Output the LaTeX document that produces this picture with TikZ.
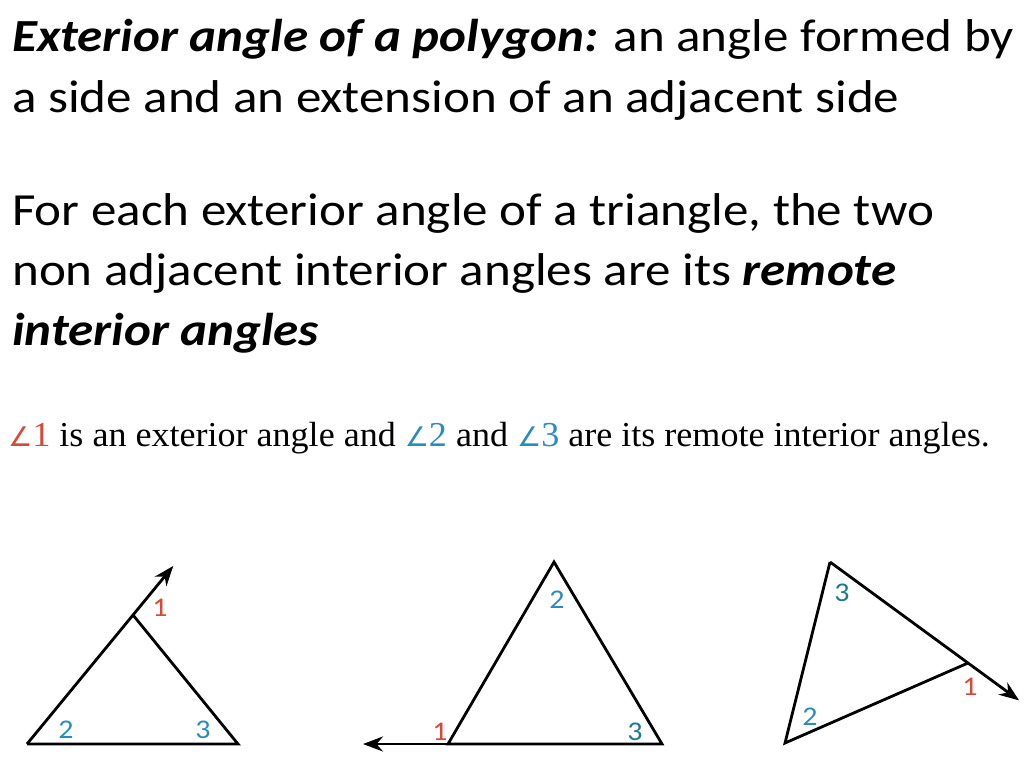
\documentclass[tikz,border=0pt]{standalone}
\usepackage{xcolor}
\usepackage{fontspec}
\setmainfont{Carlito}[FakeStretch=1.11]
\newfontfamily\capfont{Liberation Serif}[FakeStretch=1.03]
\newfontfamily\symfont{DejaVu Sans}
\usepackage{tikz}
\usetikzlibrary{arrows.meta}
\usetikzlibrary{calc}
\definecolor{anglered}{RGB}{214,72,58}
\definecolor{angleblue}{RGB}{42,140,190}
\definecolor{angleteal}{RGB}{30,122,140}
\newcommand{\angsym}[1]{{\symfont\fontsize{27}{34}\selectfont ∠}#1}
\tikzstyle{heading} = [anchor=base west, inner sep=0pt,
    font=\fontsize{46}{56}\selectfont]
\tikzstyle{caption} = [anchor=base west, inner sep=0pt,
    font=\capfont\fontsize{35}{40}\selectfont]
\tikzstyle{side} = [draw, line width=2.8pt, line join=miter]
\tikzstyle{ray} = [draw, line width=2.8pt, -{Stealth[length=20pt,width=15pt]}]
\tikzstyle{exterior} = [text=anglered, inner sep=0pt,
    font=\fontsize{27}{30}\selectfont]
\tikzstyle{remote} = [text=angleblue, inner sep=0pt,
    font=\fontsize{27}{30}\selectfont]

\begin{document}
\begin{tikzpicture}[x=1pt, y=-1pt]
  \useasboundingbox (0,0) rectangle (1024,768);
  % Text
  \node [heading] (def1) at (12,52) {\textbf{\textit{Exterior angle of a polygon:}} an angle formed by};
  \node [heading] (def2) at (12,112) {a side and an extension of an adjacent side};
  \node [heading] (rem1) at (12,225) {For each exterior angle of a triangle, the two};
  \node [heading] (rem2) at (12,285) {non adjacent interior angles are its \textbf{\textit{remote}}};
  \node [heading] (rem3) at (12,345) {\textbf{\textit{interior angles}}};
  \node [caption] (note) at (8,446) {\textcolor{anglered}{\angsym{1}} is an exterior angle
    and \textcolor{angleblue}{\angsym{2}} and \textcolor{angleblue}{\angsym{3}} are its remote interior angles.};

  % Left triangle
  \coordinate (a1) at (27,744);
  \coordinate (b1) at (238,744);
  \coordinate (c1) at (133,615);
  \coordinate (t1) at ($(a1)!1.38!(c1)$);
  \path [side] (c1) -- (b1) -- (a1);
  \path [ray] (a1) -- (t1);
  \node [exterior] (x1) at (160,608) {1};
  \node [remote] (r12) at (66,730) {2};
  \node [remote] (r13) at (203,730) {3};

  % Middle triangle
  \coordinate (a2) at (448,744);
  \coordinate (b2) at (662,744);
  \coordinate (c2) at (554,562);
  \coordinate (t2) at (363,744);
  \path [side] (a2) -- (c2) -- (b2) -- cycle;
  \path [ray] (b2) -- (t2);
  \node [exterior] (x2) at (440,732) {1};
  \node [remote] (r22) at (557,600) {2};
  \node [remote, text=angleteal] (r23) at (635,732) {3};

  % Right triangle
  \coordinate (a3) at (785,743);
  \coordinate (b3) at (968,663);
  \coordinate (c3) at (830,562);
  \coordinate (t3) at ($(c3)!1.37!(b3)$);
  \path [side] (b3) -- (a3) -- (c3);
  \path [ray] (c3) -- (t3);
  \node [exterior] (x3) at (970,687) {1};
  \node [remote] (r32) at (810,717) {2};
  \node [remote, text=angleteal] (r33) at (842,593) {3};
\end{tikzpicture}
\end{document}
